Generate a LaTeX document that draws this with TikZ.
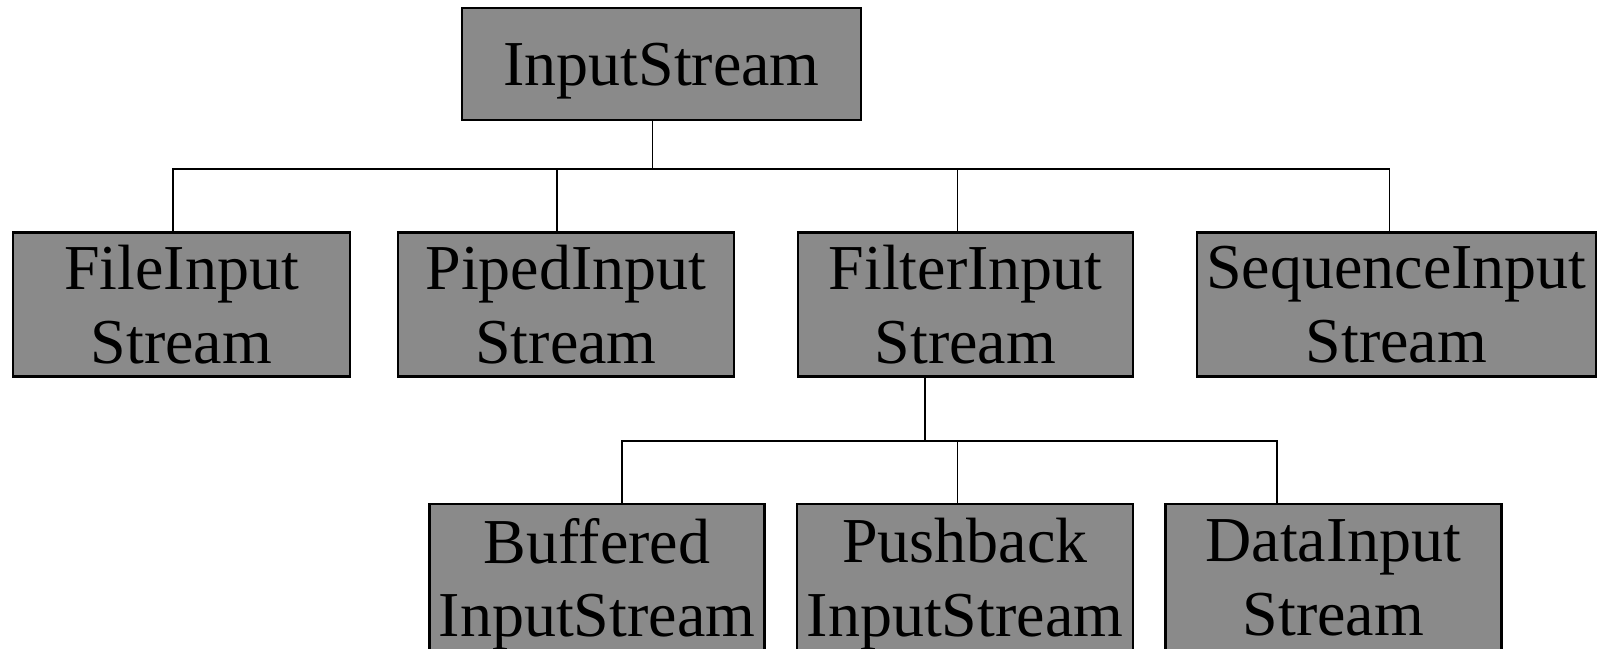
\documentclass[tikz,border=0pt]{standalone}
\usepackage{fontspec}
\setmainfont{Liberation Serif}
\usetikzlibrary{calc}
\definecolor{boxgray}{RGB}{138,138,138}

\begin{document}
\begin{tikzpicture}[
  x=0.01cm, y=-0.01cm,
  cls/.style   = {draw=black, line width=0.65pt, fill=boxgray,
                  align=center, inner sep=0pt, text depth=-1.6pt,
                  minimum height=1.44cm,
                  font=\fontsize{18.2}{21}\selectfont},
  link/.style  = {draw=black, line width=0.55pt},
]

% page frame (pixels of the reference, y downwards)
\clip (0,0) rectangle (1598,648);

% =============================================================
% Class boxes
% =============================================================
\node[cls, minimum width=3.99cm, minimum height=1.12cm] (top) at (661.5,64) {InputStream};

% --- direct subclasses ---
\node[cls, minimum width=3.37cm] (fileIn)   at (181.5,304.5) {FileInput\\Stream};
\node[cls, minimum width=3.36cm] (pipedIn)  at (566,304.5)   {PipedInput\\Stream};
\node[cls, minimum width=3.35cm] (filterIn) at (965.5,304.5) {FilterInput\\Stream};
\node[cls, minimum width=3.99cm] (seqIn)    at (1396.5,304.5) {SequenceInput\\Stream};

% --- filter subclasses ---
\node[cls, minimum width=3.35cm, minimum height=1.47cm] (bufIn)  at (597,577.5)    {Buffered\\InputStream};
\node[cls, minimum width=3.36cm, minimum height=1.47cm] (pushIn) at (965,577.5)    {Pushback\\InputStream};
\node[cls, minimum width=3.36cm, minimum height=1.47cm] (dataIn) at (1333.5,577.5) {DataInput\\Stream};

% =============================================================
% Inheritance lines
% =============================================================
\coordinate (forkA) at ($(top.south)+(-9,48)$);
\draw[link] ($(top.south)+(-9,0)$) -- (forkA);
\draw[link] ($(fileIn.north)+(-8.5,0)$)   |- (forkA);
\draw[link] ($(pipedIn.north)+(-9,0)$)    |- (forkA);
\draw[link] ($(filterIn.north)+(-8,0)$)   |- (forkA);
\draw[link] ($(seqIn.north)+(-7,0)$)      |- (forkA);

\coordinate (forkB) at ($(filterIn.south)+(-40.5,63)$);
\draw[link] ($(filterIn.south)+(-40.5,0)$) -- (forkB);
\draw[link] ($(bufIn.north)+(25,0)$)      |- (forkB);
\draw[link] ($(pushIn.north)+(-7.5,0)$)   |- (forkB);
\draw[link] ($(dataIn.north)+(-56.5,0)$)  |- (forkB);

\end{tikzpicture}
\end{document}
